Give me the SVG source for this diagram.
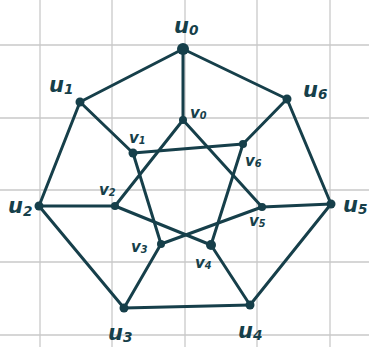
<svg xmlns="http://www.w3.org/2000/svg" width="369" height="347" viewBox="0 0 369 347">
<style>
.grid{stroke:#c9c9c9;stroke-width:1.3}
.e{stroke:#163f4a;stroke-width:3;stroke-linecap:round;fill:none}
.d{fill:#163f4a}
.lu{font-family:"DejaVu Sans","Noto Sans",sans-serif;font-size:21px;font-weight:bold;fill:#163f4a;font-style:italic}
.lv{font-family:"DejaVu Sans","Noto Sans",sans-serif;font-size:15px;font-weight:bold;fill:#163f4a;font-style:italic}
.s{font-size:0.65em}
</style>
<rect width="369" height="347" fill="#ffffff"/>
<g id="grid">
<line class="grid" x1="40" y1="0" x2="40" y2="347"/>
<line class="grid" x1="112" y1="0" x2="112" y2="347"/>
<line class="grid" x1="185" y1="0" x2="185" y2="347"/>
<line class="grid" x1="257" y1="0" x2="257" y2="347"/>
<line class="grid" x1="330" y1="0" x2="330" y2="347"/>
<line class="grid" x1="0" y1="45" x2="369" y2="45"/>
<line class="grid" x1="0" y1="118" x2="369" y2="118"/>
<line class="grid" x1="0" y1="190" x2="369" y2="190"/>
<line class="grid" x1="0" y1="262" x2="369" y2="262"/>
<line class="grid" x1="0" y1="335" x2="369" y2="335"/>
</g>
<g id="connectors">
<line class="e" x1="183" y1="49" x2="80" y2="102"/>
<line class="e" x1="183" y1="49" x2="287" y2="99"/>
<line class="e" x1="80" y1="102" x2="39" y2="206"/>
<line class="e" x1="287" y1="99" x2="331" y2="204"/>
<line class="e" x1="39" y1="206" x2="124" y2="308"/>
<line class="e" x1="331" y1="204" x2="250" y2="305"/>
<line class="e" x1="124" y1="308" x2="250" y2="305"/>
<line class="e" x1="183" y1="49" x2="183" y2="120"/>
<line class="e" x1="80" y1="102" x2="133" y2="153"/>
<line class="e" x1="287" y1="99" x2="243" y2="144"/>
<line class="e" x1="39" y1="206" x2="115" y2="206"/>
<line class="e" x1="331" y1="204" x2="262" y2="207"/>
<line class="e" x1="124" y1="308" x2="161" y2="244"/>
<line class="e" x1="250" y1="305" x2="211" y2="245"/>
<line class="e" x1="183" y1="120" x2="115" y2="206"/>
<line class="e" x1="183" y1="120" x2="262" y2="207"/>
<line class="e" x1="133" y1="153" x2="243" y2="144"/>
<line class="e" x1="133" y1="153" x2="161" y2="244"/>
<line class="e" x1="243" y1="144" x2="211" y2="245"/>
<line class="e" x1="115" y1="206" x2="211" y2="245"/>
<line class="e" x1="262" y1="207" x2="161" y2="244"/>
</g>
<g id="u0"><circle class="d" cx="183" cy="49" r="6"/><text class="lu" x="174" y="33">u<tspan class="s" dy="2">0</tspan></text></g>
<g id="u1"><circle class="d" cx="80" cy="102" r="4.5"/><text class="lu" x="49" y="92">u<tspan class="s" dy="2">1</tspan></text></g>
<g id="u6"><circle class="d" cx="287" cy="99" r="4.5"/><text class="lu" x="303" y="97">u<tspan class="s" dy="2">6</tspan></text></g>
<g id="u2"><circle class="d" cx="39" cy="206" r="4.5"/><text class="lu" x="8" y="213">u<tspan class="s" dy="3">2</tspan></text></g>
<g id="u5"><circle class="d" cx="331" cy="204" r="4.5"/><text class="lu" x="343" y="212">u<tspan class="s" dy="2">5</tspan></text></g>
<g id="u3"><circle class="d" cx="124" cy="308" r="4.5"/><text class="lu" x="108" y="340">u<tspan class="s" dy="2">3</tspan></text></g>
<g id="u4"><circle class="d" cx="250" cy="305" r="4.5"/><text class="lu" x="238" y="338">u<tspan class="s" dy="2">4</tspan></text></g>
<g id="v0"><circle class="d" cx="183" cy="120" r="4"/><text class="lv" x="190" y="118">v<tspan class="s" dy="1">0</tspan></text></g>
<g id="v1"><circle class="d" cx="133" cy="153" r="4.5"/><text class="lv" x="129" y="143">v<tspan class="s" dy="1">1</tspan></text></g>
<g id="v6"><circle class="d" cx="243" cy="144" r="4"/><text class="lv" x="245" y="166">v<tspan class="s" dy="1">6</tspan></text></g>
<g id="v2"><circle class="d" cx="115" cy="206" r="4"/><text class="lv" x="99" y="195">v<tspan class="s" dy="1">2</tspan></text></g>
<g id="v5"><circle class="d" cx="262" cy="207" r="4"/><text class="lv" x="249" y="226">v<tspan class="s" dy="1">5</tspan></text></g>
<g id="v3"><circle class="d" cx="161" cy="244" r="4"/><text class="lv" x="131" y="252">v<tspan class="s" dy="1">3</tspan></text></g>
<g id="v4"><circle class="d" cx="211" cy="245" r="5"/><text class="lv" x="195" y="268">v<tspan class="s" dy="1">4</tspan></text></g>
</svg>
